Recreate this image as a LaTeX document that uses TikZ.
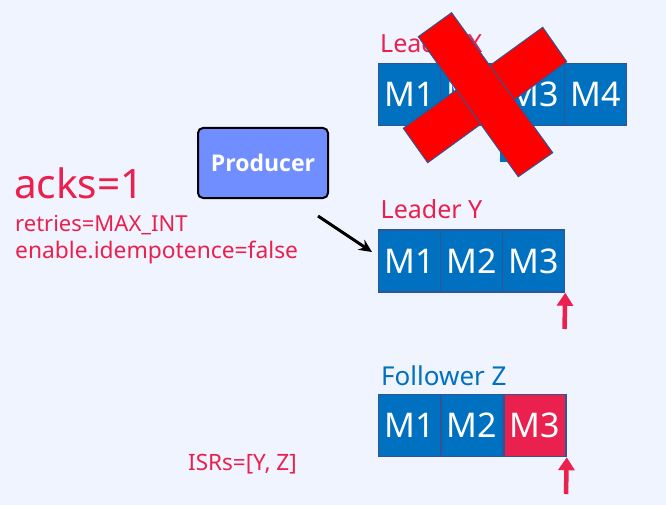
\documentclass[tikz,border=0pt]{standalone}
\usepackage{fontspec}
\setmainfont{Noto Sans}
\newfontfamily\prodfont{Open Sans}
\usetikzlibrary{arrows.meta}
\definecolor{bgc}{RGB}{240,244,254}
\definecolor{txtred}{RGB}{234,32,78}
\definecolor{boxblue}{RGB}{0,112,192}
\definecolor{boxedge}{RGB}{47,85,151}
\definecolor{prodfill}{RGB}{112,142,255}
\definecolor{xred}{RGB}{255,0,0}
\tikzset{
  mbox/.style={draw=boxedge, line width=1.5pt, fill=boxblue, text=white, minimum width=62pt, minimum height=62pt, inner sep=0pt, font=\fontsize{34}{34}\selectfont},
  lbl/.style={anchor=base west, inner sep=0pt, font=\fontsize{25}{25}\selectfont},
  redtext/.style={text=txtred, anchor=base west, inner sep=0pt},
  uparrow/.style={draw=txtred, line width=4.5pt, -{Triangle[width=16pt,length=13pt]}},
  xbar/.style={fill=xred, draw=boxedge, line width=1pt},
}
\begin{document}
\begin{tikzpicture}[x=1pt,y=-1pt]
\path[use as bounding box, fill=bgc] (0,0) rectangle (666,505);

% Leader X
\node[lbl, text=txtred] (lx) at (380,53) {Leader X};
\node[mbox] (x1) at (409.5,94.5) {M1};
\node[mbox] (x2) at (471.5,94.5) {M2};
\node[mbox] (x3) at (533.5,94.5) {M3};
\node[mbox] (x4) at (595.5,94.5) {M4};
\fill[boxblue] (500,148) rectangle (525,162);
% red cross
\draw[xbar] (403.3,128.3) -- (542.7,27.3) -- (566.7,61.7) -- (427.7,162.7) -- cycle;
\draw[xbar] (418.3,36.7) -- (451.6,12.7) -- (552.7,152.7) -- (518.3,176.7) -- cycle;

% Leader Y
\node[lbl, text=txtred] (ly) at (380.5,218.5) {Leader Y};
\node[mbox] (y1) at (409.5,261) {M1};
\node[mbox] (y2) at (471.5,261) {M2};
\node[mbox] (y3) at (533.5,261) {M3};
\coordinate (ya) at (564.5,329);
\draw[uparrow] (ya) -- (y3.south east);

% Follower Z
\node[lbl, text=boxblue, font=\fontsize{26}{26}\selectfont] (fz) at (381,385) {Follower Z};
\node[mbox] (z1) at (409.5,425.5) {M1};
\node[mbox] (z2) at (472,425.5) {M2};
\node[mbox, fill=txtred] (z3) at (535,425.5) {M3};
\coordinate (za) at (566,494);
\draw[uparrow] (za) -- (z3.south east);

% Producer
\node[draw=black, line width=2pt, fill=prodfill, rounded corners=5pt, minimum width=130pt, minimum height=70pt, text=white, font=\prodfont\bfseries\fontsize{23}{23}\selectfont] (prod) at (263,163) {Producer};
\coordinate (pa) at (318,216);
\coordinate (pb) at (372,252);
\draw[line width=3pt, -{Stealth[length=13pt,width=12pt]}] (pa) -- (pb);

% config texts
\node[redtext, font=\fontsize{40.5}{40.5}\selectfont] (acks) at (14,198.5) {acks=1};
\node[redtext, font=\fontsize{22}{22}\selectfont] (ret) at (15,231) {retries=MAX\_INT};
\node[redtext, font=\fontsize{22.8}{22.8}\selectfont] (idem) at (15,258) {enable.idempotence=false};
\node[redtext, font=\fontsize{22.5}{22.5}\selectfont] (isr) at (188,470) {ISRs=[Y, Z]};
\end{tikzpicture}
\end{document}
